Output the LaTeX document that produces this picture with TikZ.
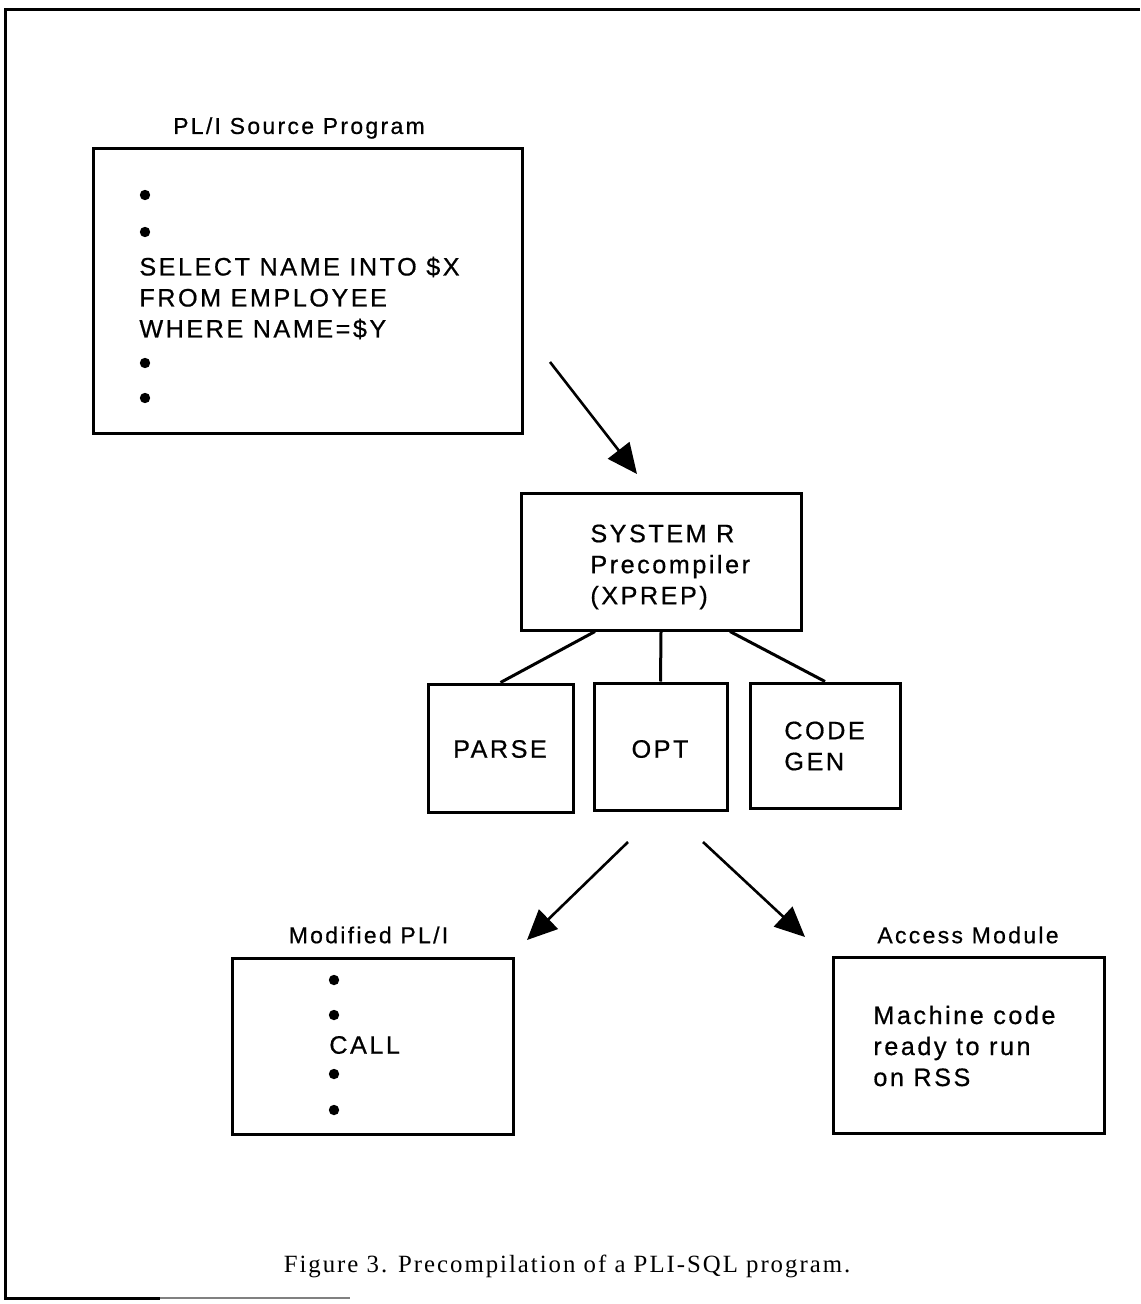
\documentclass[tikz,border=0pt]{standalone}
\usepackage{fontspec}
\setmainfont{Liberation Serif}[LetterSpace=8]
\newfontfamily\figsans{Liberation Sans}[LetterSpace=10,FakeBold=0.6]
\usetikzlibrary{arrows.meta}
\newcommand\boxtext{\figsans\fontsize{12.6}{15.5}\selectfont}
\newcommand\tagtext{\figsans\fontsize{11.5}{13}\selectfont}
\newcommand\captext{\rmfamily\fontsize{12.4}{14}\selectfont}

\begin{document}
\begin{tikzpicture}[x=0.5pt,y=-0.5pt]
\useasboundingbox (0,0) rectangle (1140,1304);

\tikzset{>={Triangle[length=15pt,width=13.5pt]}}
\def\u{0.5pt}
\tikzstyle{block} = [
	draw, rectangle, line width=1.5pt, inner sep=0pt ];
\tikzstyle{plain} = [draw=none, fill=none, inner sep=0pt,
	font=\boxtext, align=left];
\tikzstyle{tag} = [plain, font=\tagtext, align=center];
\tikzstyle{dot} = [circle, fill=black, inner sep=0pt, minimum size=5.2pt];
\tikzstyle{flow} = [->, line width=1.3pt];
\tikzstyle{link} = [line width=1.5pt];

% frame
\draw[line width=1.5pt] (1140,10) -- (5,10) -- (5,1298) -- (160,1298);
\draw[gray, line width=0.6pt] (160,1298) -- (350,1298);

% source program
\node[tag] (srcl) at (299,128) {PL/I Source Program};
\node[block, minimum width=429*\u, minimum height=284*\u] (src) at (307.5,291) {};
\node[dot] (s1) at (145,195) {};
\node[dot] (s2) at (145,232) {};
\node[plain, anchor=west] (sql) at (139,298) {SELECT NAME INTO \$X\\FROM EMPLOYEE\\WHERE NAME=\$Y};
\node[dot] (s3) at (145,363) {};
\node[dot] (s4) at (145,398) {};

% precompiler
\node[block, minimum width=280*\u, minimum height=137*\u] (pre) at (661,561.5) {};
\node[plain, anchor=west] (pret) at (590,567) {SYSTEM R\\Precompiler\\(XPREP)};

\node[block, minimum width=145*\u, minimum height=128*\u] (parse) at (500.5,748) {};
\node[plain] (parset) at (500,749) {PARSE};
\node[block, minimum width=133*\u, minimum height=127*\u] (opt) at (660.5,746.5) {};
\node[plain] (optt) at (660,749) {OPT};
\node[block, minimum width=150*\u, minimum height=125*\u] (code) at (825,745.5) {};
\node[plain, anchor=west] (codet) at (784,746) {CODE\\GEN};

\draw[link] (pre.south) ++(-66,0) -- (parse.north);
\draw[link] (pre.south) -- (opt.north);
\draw[link] (pre.south) ++(69,0) -- (code.north);

% outputs
\node[tag] (modl) at (368.5,935) {Modified PL/I};
\node[block, minimum width=281*\u, minimum height=176*\u] (mod) at (372.5,1046) {};
\node[dot] (m1) at (334,980) {};
\node[dot] (m2) at (334,1015) {};
\node[plain, anchor=west] (call) at (329,1045) {CALL};
\node[dot] (m3) at (334,1074) {};
\node[dot] (m4) at (334,1110) {};

\node[tag] (accl) at (968,935) {Access Module};
\node[block, minimum width=271*\u, minimum height=176*\u] (acc) at (968.5,1045) {};
\node[plain, anchor=west] (acct) at (873,1046) {Machine code\\ready to run\\on RSS};

% arrows
\coordinate (a1) at (550,362);
\coordinate (b1) at (637,474);
\coordinate (a2) at (628,842);
\coordinate (b2) at (527,940);
\coordinate (a3) at (703,842);
\coordinate (b3) at (805,937);
\draw[flow] (a1) -- (b1);
\draw[flow] (a2) -- (b2);
\draw[flow] (a3) -- (b3);

\node[plain, font=\captext] (cap) at (567,1266) {Figure 3. Precompilation of a PLI-SQL program.};

\end{tikzpicture}
\end{document}
